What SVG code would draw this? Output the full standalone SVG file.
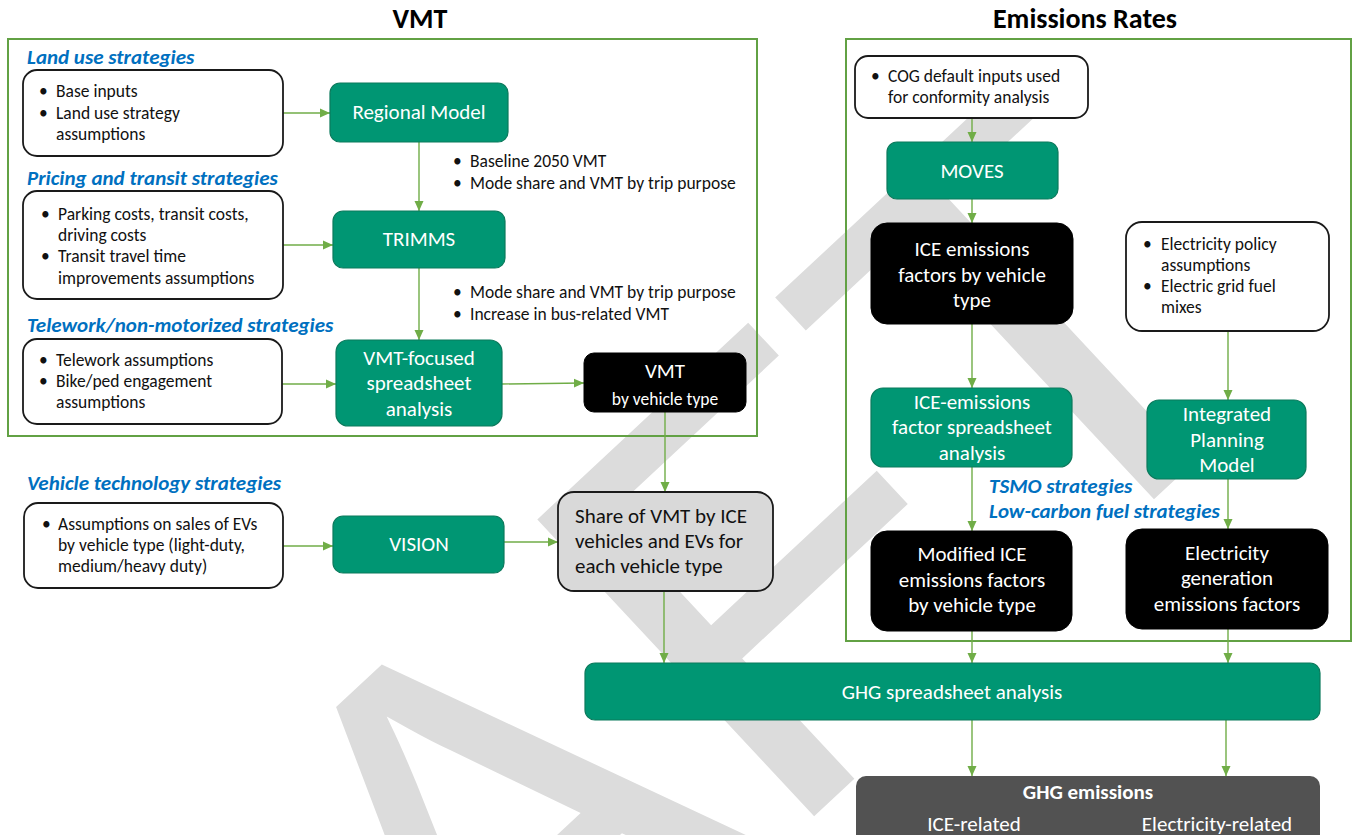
<svg xmlns="http://www.w3.org/2000/svg" width="1353" height="835" viewBox="0 0 1353 835">
<defs>
<style>
text{font-family:Carlito,Lato,"Liberation Sans",sans-serif}
.wm{font-family:"Liberation Sans",Arial,sans-serif;font-size:590px;fill:#dcdcdc}
.title{font-size:28px;font-weight:bold;text-anchor:middle;fill:#000}
.lab{font-size:21px;font-weight:bold;font-style:italic;fill:#0070c0}
.b{font-size:17.5px;fill:#111}
.w{font-size:21px;fill:#fff;text-anchor:middle}
.ws{font-size:17.5px;fill:#fff;text-anchor:middle}
.k{font-size:21px;fill:#111}
.cont{fill:none;stroke:#62a144;stroke-width:2}
.gr{fill:#009673;stroke:#0b7a5c;stroke-width:1.2}
.bk{fill:#000;stroke:#000;stroke-width:1}
.wh{fill:#fff;stroke:#1a1a1a;stroke-width:1.8}
.gy{fill:#d9d9d9;stroke:#1a1a1a;stroke-width:1.8}
.dk{fill:#525252}
.c{fill:none;stroke:#70ad47;stroke-width:1.4;marker-end:url(#ah)}
</style>
<marker id="ah" viewBox="0 0 10 10" refX="10" refY="5" markerWidth="10" markerHeight="10" markerUnits="userSpaceOnUse" orient="auto">
<path d="M0,0.5 L10,5 L0,9.5 z" fill="#70ad47"/>
</marker>
</defs>
<rect width="1353" height="835" fill="#fff"/>
<text class="wm" x="-1295" y="422" transform="translate(527 507) rotate(-43)">DRAFT</text>

<text class="title" x="420" y="28">VMT</text>
<text class="title" x="1085" y="28">Emissions Rates</text>

<rect class="cont" x="8" y="39" width="749" height="397"/>
<rect class="cont" x="846" y="39" width="505" height="602"/>

<text class="lab" x="27" y="64">Land use strategies</text>
<text class="lab" x="27" y="185">Pricing and transit strategies</text>
<text class="lab" x="27" y="332">Telework/non-motorized strategies</text>
<text class="lab" x="27" y="490">Vehicle technology strategies</text>

<g id="connectors">
<path class="c" d="M283,113 H330"/>
<path class="c" d="M283,245 H333"/>
<path class="c" d="M282,384 H336"/>
<path class="c" d="M419,142 V211"/>
<path class="c" d="M419,268 V340"/>
<path class="c" d="M502,384 L584,383"/>
<path class="c" d="M665,412 V492"/>
<path class="c" d="M283,546 H333"/>
<path class="c" d="M504,542 H558"/>
<path class="c" d="M664,591 V663"/>
<path class="c" d="M972,118 V142"/>
<path class="c" d="M972,199 V223"/>
<path class="c" d="M972,324 V388"/>
<path class="c" d="M972,467 V531"/>
<path class="c" d="M1228,331 V400"/>
<path class="c" d="M1228,479 V529"/>
<path class="c" d="M972,631 V663"/>
<path class="c" d="M1228,629 V663"/>
<path class="c" d="M972,720 V776"/>
<path class="c" d="M1226,720 V776"/>
</g>

<g id="land-use-inputs">
<rect class="wh" x="23" y="70" width="260" height="86" rx="14"/>
<text class="b"><tspan x="39" y="97">•</tspan><tspan x="56" y="97">Base inputs</tspan><tspan x="39" y="119">•</tspan><tspan x="56" y="119">Land use strategy</tspan><tspan x="56" y="140">assumptions</tspan></text>
</g>
<g id="pricing-inputs">
<rect class="wh" x="23" y="191" width="260" height="108" rx="14"/>
<text class="b"><tspan x="41" y="220">•</tspan><tspan x="58" y="220">Parking costs, transit costs,</tspan><tspan x="58" y="241">driving costs</tspan><tspan x="41" y="262">•</tspan><tspan x="58" y="262">Transit travel time</tspan><tspan x="58" y="284">improvements assumptions</tspan></text>
</g>
<g id="telework-inputs">
<rect class="wh" x="23" y="339" width="259" height="85" rx="14"/>
<text class="b"><tspan x="39" y="366">•</tspan><tspan x="56" y="366">Telework assumptions</tspan><tspan x="39" y="387">•</tspan><tspan x="56" y="387">Bike/ped engagement</tspan><tspan x="56" y="408">assumptions</tspan></text>
</g>
<g id="vehicle-tech-inputs">
<rect class="wh" x="24" y="503" width="259" height="85" rx="14"/>
<text class="b"><tspan x="42" y="530">•</tspan><tspan x="58" y="530">Assumptions on sales of EVs</tspan><tspan x="58" y="551">by vehicle type (light-duty,</tspan><tspan x="58" y="572">medium/heavy duty)</tspan></text>
</g>

<g id="regional-model">
<rect class="gr" x="330" y="83" width="178" height="59" rx="10"/>
<text class="w" x="419" y="119">Regional Model</text>
</g>
<g id="trimms">
<rect class="gr" x="333" y="211" width="172" height="57" rx="10"/>
<text class="w" x="419" y="246">TRIMMS</text>
</g>
<g id="vmt-focused">
<rect class="gr" x="336" y="340" width="166" height="86" rx="12"/>
<text class="w"><tspan x="419" y="365">VMT-focused</tspan><tspan x="419" y="390">spreadsheet</tspan><tspan x="419" y="416">analysis</tspan></text>
</g>
<g id="vmt-by-type">
<rect class="bk" x="584" y="353" width="162" height="59" rx="10"/>
<text class="w" x="665" y="378">VMT</text>
<text class="ws" x="665" y="405">by vehicle type</text>
</g>
<g id="outputs-labels">
<text class="b"><tspan x="453" y="167">•</tspan><tspan x="470" y="167">Baseline 2050 VMT</tspan><tspan x="453" y="189">•</tspan><tspan x="470" y="189">Mode share and VMT by trip purpose</tspan></text>
<text class="b"><tspan x="453" y="298">•</tspan><tspan x="470" y="298">Mode share and VMT by trip purpose</tspan><tspan x="453" y="320">•</tspan><tspan x="470" y="320">Increase in bus-related VMT</tspan></text>
</g>
<g id="vision">
<rect class="gr" x="333" y="516" width="171" height="57" rx="10"/>
<text class="w" x="419" y="551">VISION</text>
</g>
<g id="share">
<rect class="gy" x="558" y="492" width="215" height="99" rx="16"/>
<text class="k"><tspan x="575" y="523">Share of VMT by ICE</tspan><tspan x="575" y="548">vehicles and EVs for</tspan><tspan x="575" y="573">each vehicle type</tspan></text>
</g>

<g id="cog-inputs">
<rect class="wh" x="855" y="56" width="233" height="62" rx="13"/>
<text class="b"><tspan x="871" y="82">•</tspan><tspan x="888" y="82">COG default inputs used</tspan><tspan x="888" y="103">for conformity analysis</tspan></text>
</g>
<g id="moves">
<rect class="gr" x="887" y="142" width="171" height="57" rx="10"/>
<text class="w" x="972" y="178">MOVES</text>
</g>
<g id="ice-factors">
<rect class="bk" x="871" y="223" width="202" height="101" rx="16"/>
<text class="w"><tspan x="972" y="256">ICE emissions</tspan><tspan x="972" y="282">factors by vehicle</tspan><tspan x="972" y="307">type</tspan></text>
</g>
<g id="electricity-inputs">
<rect class="wh" x="1126" y="222" width="203" height="109" rx="16"/>
<text class="b"><tspan x="1143" y="250">•</tspan><tspan x="1161" y="250">Electricity policy</tspan><tspan x="1161" y="271">assumptions</tspan><tspan x="1143" y="292">•</tspan><tspan x="1161" y="292">Electric grid fuel</tspan><tspan x="1161" y="313">mixes</tspan></text>
</g>
<g id="ice-spreadsheet">
<rect class="gr" x="871" y="388" width="201" height="79" rx="12"/>
<text class="w"><tspan x="972" y="409">ICE-emissions</tspan><tspan x="972" y="434">factor spreadsheet</tspan><tspan x="972" y="460">analysis</tspan></text>
</g>
<g id="ipm">
<rect class="gr" x="1147" y="400" width="159" height="79" rx="12"/>
<text class="w"><tspan x="1227" y="421">Integrated</tspan><tspan x="1227" y="447">Planning</tspan><tspan x="1227" y="472">Model</tspan></text>
</g>
<g id="strategy-labels">
<text class="lab" x="989" y="493">TSMO strategies</text>
<text class="lab" x="989" y="518">Low-carbon fuel strategies</text>
</g>
<g id="modified-ice">
<rect class="bk" x="871" y="531" width="201" height="100" rx="16"/>
<text class="w"><tspan x="972" y="561">Modified ICE</tspan><tspan x="972" y="587">emissions factors</tspan><tspan x="972" y="612">by vehicle type</tspan></text>
</g>
<g id="electricity-factors">
<rect class="bk" x="1126" y="529" width="202" height="100" rx="16"/>
<text class="w"><tspan x="1227" y="560">Electricity</tspan><tspan x="1227" y="585">generation</tspan><tspan x="1227" y="611">emissions factors</tspan></text>
</g>

<g id="ghg-spreadsheet">
<rect class="gr" x="585" y="663" width="735" height="57" rx="10"/>
<text class="w" x="952" y="699">GHG spreadsheet analysis</text>
</g>
<g id="ghg-emissions">
<rect class="dk" x="856" y="776" width="464" height="80" rx="10"/>
<text class="w" x="1088" y="799" font-weight="bold">GHG emissions</text>
<text class="w" x="974" y="831">ICE-related</text>
<text class="w" x="1217" y="831">Electricity-related</text>
</g>
</svg>
